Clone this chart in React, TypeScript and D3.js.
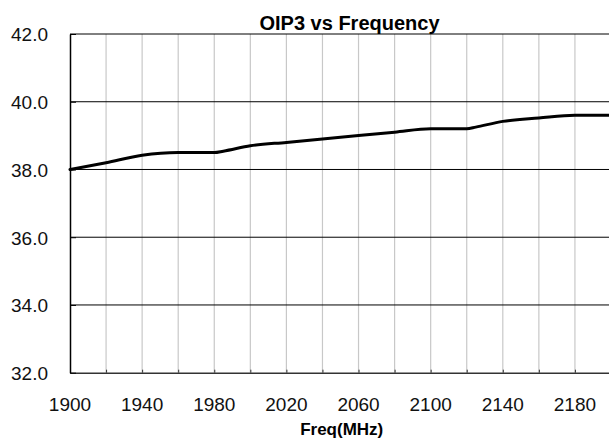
import { useEffect, useRef } from 'react';
import * as d3 from 'd3';

const WIDTH = 609;
const HEIGHT = 442;
const PLOT = { left: 70, right: 611, top: 34, bottom: 372.7 };

const freqs = [1900, 1920, 1940, 1960, 1980, 1985, 2000, 2020, 2040, 2060, 2080, 2100, 2120, 2125, 2140, 2160, 2180, 2200];
const oip3 = [38.0, 38.2, 38.42, 38.5, 38.5, 38.54, 38.7, 38.8, 38.9, 39.0, 39.1, 39.2, 39.2, 39.25, 39.42, 39.52, 39.6, 39.6];

const xTicks = [1900, 1940, 1980, 2020, 2060, 2100, 2140, 2180];
const xGrid = d3.range(1900, 2201, 20);
const yTicks = [32, 34, 36, 38, 40, 42];

const FONT = '"Liberation Sans", Arial, sans-serif';

export default function App() {
  const svgRef = useRef<SVGSVGElement>(null);

  useEffect(() => {
    if (!svgRef.current) return;
    const svg = d3.select(svgRef.current);
    svg.selectAll('*').remove();

    const x = d3.scaleLinear().domain([1900, 2200]).range([PLOT.left, PLOT.right]);
    const y = d3.scaleLinear().domain([32, 42]).range([PLOT.bottom, PLOT.top]);

    svg.append('rect').attr('width', WIDTH).attr('height', HEIGHT).attr('fill', '#fff');

    // vertical grid (light gray)
    svg
      .append('g')
      .selectAll('line')
      .data(xGrid.filter((d) => d > 1900))
      .enter()
      .append('line')
      .attr('x1', (d) => x(d))
      .attr('x2', (d) => x(d))
      .attr('y1', PLOT.top)
      .attr('y2', PLOT.bottom)
      .attr('stroke', '#c8c8c8')
      .attr('stroke-width', 1.2);

    // horizontal grid (black)
    svg
      .append('g')
      .selectAll('line')
      .data(yTicks.filter((d) => d > 32))
      .enter()
      .append('line')
      .attr('x1', PLOT.left)
      .attr('x2', WIDTH)
      .attr('y1', (d) => y(d))
      .attr('y2', (d) => y(d))
      .attr('stroke', '#000')
      .attr('stroke-width', 1);

    // bottom axis, ticks pointing in
    const xAxis = d3
      .axisBottom(x)
      .tickValues(xGrid)
      .tickSizeInner(-3)
      .tickSizeOuter(0)
      .tickFormat(() => '');
    const gx = svg.append('g').attr('transform', `translate(0,${PLOT.bottom})`).call(xAxis);
    gx.select('.domain').attr('stroke', '#333').attr('stroke-width', 1.5);
    gx.selectAll('.tick line').attr('stroke', '#333').attr('stroke-width', 1);

    // left axis, ticks pointing in
    const yAxis = d3
      .axisLeft(y)
      .tickValues(yTicks)
      .tickSizeInner(-6)
      .tickSizeOuter(0)
      .tickFormat(() => '');
    const gy = svg.append('g').attr('transform', `translate(${PLOT.left},0)`).call(yAxis);
    gy.select('.domain').attr('stroke', '#000').attr('stroke-width', 1.5);
    gy.selectAll('.tick line').attr('stroke', '#000');

    svg
      .append('g')
      .selectAll('text')
      .data(xTicks)
      .enter()
      .append('text')
      .attr('x', (d) => x(d))
      .attr('y', 411)
      .attr('text-anchor', 'middle')
      .attr('font-family', FONT)
      .attr('font-size', 19)
      .attr('fill', '#111')
      .text((d) => d);

    svg
      .append('g')
      .selectAll('text')
      .data(yTicks)
      .enter()
      .append('text')
      .attr('x', 48)
      .attr('y', (d) => y(d) + 7.3)
      .attr('text-anchor', 'end')
      .attr('font-family', FONT)
      .attr('font-size', 19)
      .attr('fill', '#111')
      .text((d) => d.toFixed(1));

    const line = d3
      .line<number>()
      .x((_, i) => x(freqs[i]))
      .y((d) => y(d))
      .curve(d3.curveMonotoneX);
    svg
      .append('path')
      .datum(oip3)
      .attr('fill', 'none')
      .attr('stroke', '#000')
      .attr('stroke-width', 3)
      .attr('stroke-linejoin', 'round')
      .attr('stroke-linecap', 'round')
      .attr('d', line);

    svg
      .append('text')
      .attr('x', 349.5)
      .attr('y', 30)
      .attr('text-anchor', 'middle')
      .attr('font-family', FONT)
      .attr('font-weight', 'bold')
      .attr('font-size', 20)
      .text('OIP3 vs Frequency');

    svg
      .append('text')
      .attr('x', 341.7)
      .attr('y', 435)
      .attr('text-anchor', 'middle')
      .attr('font-family', FONT)
      .attr('font-weight', 'bold')
      .attr('font-size', 17)
      .text('Freq(MHz)');
  }, []);

  return (
    <svg
      ref={svgRef}
      width={WIDTH}
      height={HEIGHT}
      style={{ position: 'absolute', left: 0, top: 0, display: 'block' }}
    />
  );
}
